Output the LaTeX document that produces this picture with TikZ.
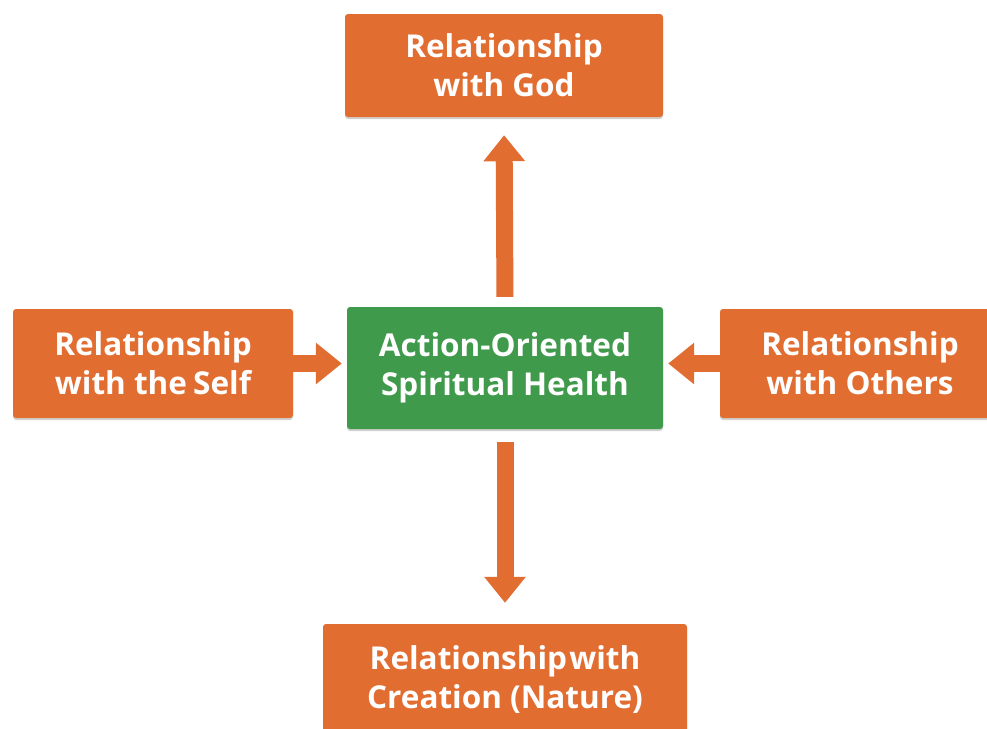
\documentclass[tikz,border=0pt]{standalone}
\usepackage{fontspec}
\setmainfont{Open Sans}
\usetikzlibrary{arrows.meta,shadows}
\definecolor{boxorange}{HTML}{E26D31}
\definecolor{boxgreen}{HTML}{3F9A4B}
\begin{document}
\begin{tikzpicture}[x=1pt,y=-1pt,
  box/.style={rectangle, rounded corners=3pt, fill=boxorange, text=white,
    font=\fontsize{31.5}{39}\selectfont\bfseries, align=center, inner sep=0pt,
    drop shadow={shadow xshift=0pt, shadow yshift=-2pt, opacity=0.18, fill=black}},
  hub/.style={box, fill=boxgreen},
  conn/.style={draw=boxorange, line width=17pt, -{Triangle[width=40pt,length=26pt]}}]
\useasboundingbox (0,0) rectangle (987,728);
\clip (0,0) rectangle (987,728);
\fill[white] (0,0) rectangle (987,728);
\node[box, minimum width=318pt, minimum height=103pt] (god) at (504,65.5) {Relationship\\with God};
\node[hub, minimum width=316pt, minimum height=122pt] (hub) at (505,368) {Action-Oriented\\Spiritual Health};
\node[box, minimum width=280pt, minimum height=109pt] (self) at (153,363.5) {Relationship\\with the\kern-2pt\ Self};
\node[box, minimum width=280pt, minimum height=109pt] (others) at (860,363.5) {Relationship\\with Others};
\node[box, minimum width=364pt, minimum height=112pt] (nature) at (505,680) {Relationship\kern-6pt\ with\\Creation (Nature)};
\draw[conn, shorten <=10pt, shorten >=18pt] (hub.north) -- (god.south);
\draw[conn, shorten <=13pt, shorten >=21pt] (hub.south) -- (nature.north);
\draw[conn, shorten >=5pt] (self.east) -- (self.east -| hub.west);
\draw[conn, shorten >=5pt] (others.west) -- (others.west -| hub.east);
\end{tikzpicture}
\end{document}
